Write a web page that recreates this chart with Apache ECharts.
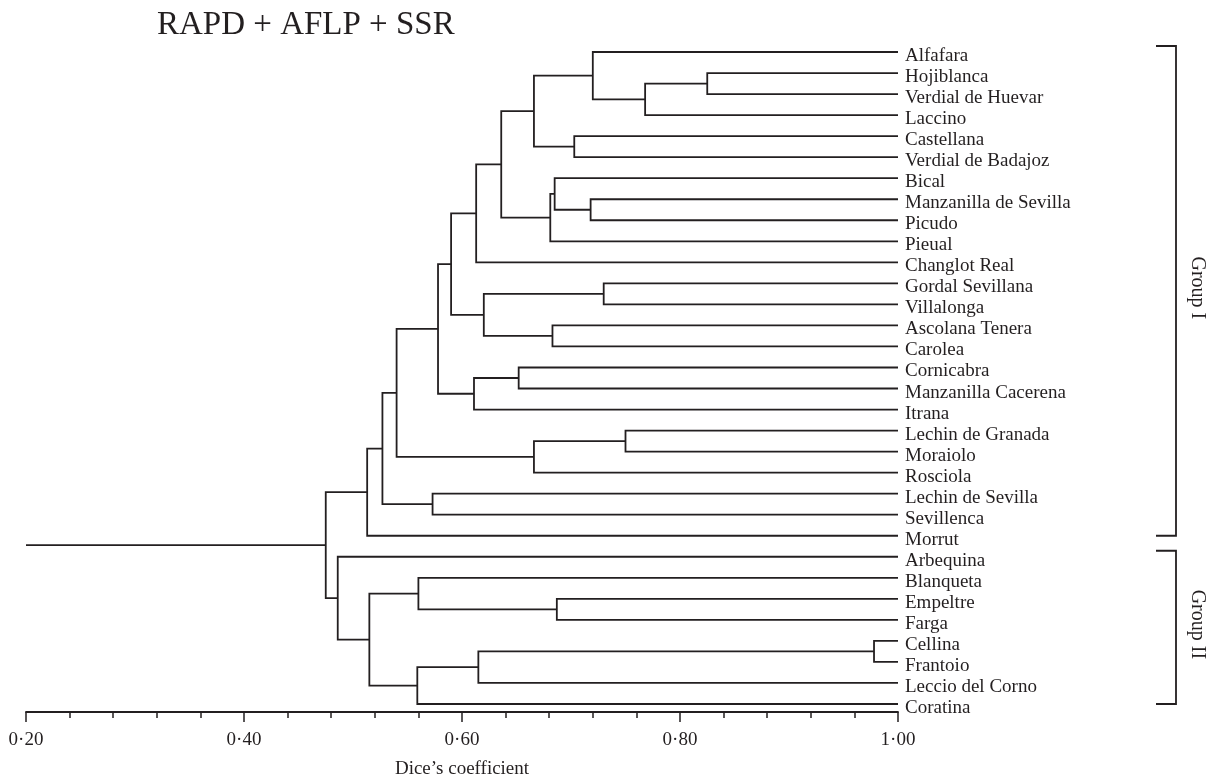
<!DOCTYPE html>
<html>
<head>
<meta charset="utf-8">
<title>RAPD + AFLP + SSR</title>
<script src="https://cdn.jsdelivr.net/npm/echarts@6/dist/echarts.min.js"></script>
<style>
  html, body { margin: 0; padding: 0; background: #fff; }
  #main { width: 1213px; height: 777px; }
</style>
</head>
<body>
<div id="main"></div>
<script>
// leaves, top to bottom
var leaves = ['Alfafara', 'Hojiblanca', 'Verdial de Huevar', 'Laccino', 'Castellana',
  'Verdial de Badajoz', 'Bical', 'Manzanilla de Sevilla', 'Picudo', 'Pieual',
  'Changlot Real', 'Gordal Sevillana', 'Villalonga', 'Ascolana Tenera', 'Carolea',
  'Cornicabra', 'Manzanilla Cacerena', 'Itrana', 'Lechin de Granada', 'Moraiolo',
  'Rosciola', 'Lechin de Sevilla', 'Sevillenca', 'Morrut', 'Arbequina', 'Blanqueta',
  'Empeltre', 'Farga', 'Cellina', 'Frantoio', 'Leccio del Corno', 'Coratina'];

// merges: node id, the two joined clusters, Dice similarity of the join
var mergeIds = ['n1', 'n2', 'n3', 'n4', 'n5', 'n6', 'n7', 'n8', 'n9', 'n10',
  'n11', 'n12', 'n13', 'n14', 'n15', 'n16', 'n17', 'n18', 'n19', 'n20',
  'n21', 'n22', 'n23', 'n24', 'n25', 'n26', 'n27', 'n28', 'n29', 'n30', 'n31'];
var mergeLeft = ['Hojiblanca', 'n1', 'Alfafara', 'Castellana', 'n3',
  'Manzanilla de Sevilla', 'Bical', 'n7', 'n5', 'n9',
  'Gordal Sevillana', 'Ascolana Tenera', 'n11', 'n10', 'Cornicabra',
  'n15', 'n14', 'Lechin de Granada', 'n18', 'n17',
  'Lechin de Sevilla', 'n20', 'n22', 'Empeltre', 'Blanqueta',
  'Cellina', 'n26', 'n27', 'n25', 'Arbequina', 'n23'];
var mergeRight = ['Verdial de Huevar', 'Laccino', 'n2', 'Verdial de Badajoz', 'n4',
  'Picudo', 'n6', 'Pieual', 'n8', 'Changlot Real',
  'Villalonga', 'Carolea', 'n12', 'n13', 'Manzanilla Cacerena',
  'Itrana', 'n16', 'Moraiolo', 'Rosciola', 'n19',
  'Sevillenca', 'n21', 'Morrut', 'Farga', 'n24',
  'Frantoio', 'Leccio del Corno', 'Coratina', 'n28', 'n29', 'n30'];
var mergeSim = [0.825, 0.768, 0.720, 0.703, 0.666, 0.718, 0.685, 0.681, 0.636, 0.613,
  0.730, 0.683, 0.620, 0.590, 0.652, 0.611, 0.578, 0.750, 0.666, 0.540,
  0.573, 0.527, 0.513, 0.687, 0.560, 0.978, 0.615, 0.559, 0.515, 0.486, 0.475];

var axisMin = 0.20, axisMax = 1.00;
var tickValues = [0.20, 0.40, 0.60, 0.80, 1.00];

var groupNames = ['Group I', 'Group II'];
var groupFirst = ['Alfafara', 'Arbequina'];
var groupLast = ['Morrut', 'Coratina'];

// layout: leaf sits at its row and at similarity 1, a node halfway between its children
var pos = {};
leaves.forEach(function (name, i) { pos[name] = { x: axisMax, y: i }; });
var treeData = [];
mergeIds.forEach(function (id, i) {
  var a = pos[mergeLeft[i]], b = pos[mergeRight[i]];
  pos[id] = { x: mergeSim[i], y: (a.y + b.y) / 2 };
  treeData.push([a.x, a.y, mergeSim[i], b.y, b.x]);
});
var root = pos[mergeIds[mergeIds.length - 1]];
treeData.push([axisMin, root.y, root.x, root.y, root.x]);

var groupData = groupNames.map(function (g, i) {
  return [axisMax, leaves.indexOf(groupFirst[i]), leaves.indexOf(groupLast[i])];
});

var ink = '#231f20';
var serif = '"Liberation Serif", "Times New Roman", serif';

var option = {
  animation: false,
  backgroundColor: '#fff',
  title: {
    text: 'RAPD + AFLP + SSR',
    left: 152,
    top: 4,
    textStyle: { fontFamily: serif, fontSize: 33, fontWeight: 'normal', color: ink }
  },
  grid: { left: 26, right: 315, top: 52, height: 652, outerBoundsMode: 'none', containLabel: false },
  xAxis: {
    type: 'value', min: axisMin, max: axisMax, interval: 0.2, position: 'bottom', offset: 8,
    axisLine: { onZero: false, lineStyle: { color: ink, width: 1.8 } },
    axisTick: { length: 10, lineStyle: { color: ink, width: 1.5 } },
    minorTick: { show: true, splitNumber: 5, length: 6, lineStyle: { color: ink, width: 1.5 } },
    axisLabel: {
      margin: 19, fontFamily: serif, fontSize: 19, color: ink,
      formatter: function (v) {
        var hit = tickValues.filter(function (t) { return Math.abs(t - v) < 1e-6; });
        return hit.length ? hit[0].toFixed(2).replace('.', '\u00b7') : '';
      }
    },
    splitLine: { show: false },
    minorSplitLine: { show: false },
    name: 'Dice\u2019s coefficient', nameLocation: 'middle', nameGap: 48,
    nameTextStyle: { fontFamily: serif, fontSize: 19, color: ink }
  },
  yAxis: [
    {
      type: 'category', data: leaves, inverse: true, boundaryGap: false, position: 'right',
      axisLine: { show: false }, axisTick: { show: false }, splitLine: { show: false },
      axisLabel: {
        interval: 0, margin: 7, verticalAlign: 'top', lineHeight: 8,
        fontFamily: serif, fontSize: 19, color: ink
      }
    },
    { type: 'value', min: 0, max: leaves.length - 1, inverse: true, show: false }
  ],
  series: [
    {
      type: 'custom',
      xAxisIndex: 0,
      yAxisIndex: 1,
      encode: { x: [0, 2, 4], y: [1, 3] },
      data: treeData,
      renderItem: function (params, api) {
        var p1 = api.coord([api.value(0), api.value(1)]);
        var p2 = api.coord([api.value(2), api.value(1)]);
        var p3 = api.coord([api.value(2), api.value(3)]);
        var p4 = api.coord([api.value(4), api.value(3)]);
        return {
          type: 'polyline',
          shape: { points: [p1, p2, p3, p4] },
          style: { fill: null, stroke: ink, lineWidth: 1.8 }
        };
      }
    },
    {
      // group brackets on the right
      type: 'custom',
      xAxisIndex: 0,
      yAxisIndex: 1,
      encode: { x: 0, y: [1, 2] },
      data: groupData,
      renderItem: function (params, api) {
        var xr = api.coord([api.value(0), 0])[0];
        var yTop = api.coord([api.value(0), api.value(1)])[1] - 6;
        var yBot = api.coord([api.value(0), api.value(2)])[1];
        var x0 = xr + 258, x1 = xr + 278;
        return {
          type: 'group',
          children: [
            {
              type: 'polyline',
              shape: { points: [[x0, yTop], [x1, yTop], [x1, yBot], [x0, yBot]] },
              style: { fill: null, stroke: ink, lineWidth: 1.8 }
            },
            {
              type: 'text',
              x: xr + 299,
              y: (yTop + yBot) / 2 - 3,
              rotation: -Math.PI / 2,
              style: {
                text: groupNames[params.dataIndex],
                fill: ink, fontFamily: serif, fontSize: 20,
                align: 'center', verticalAlign: 'middle'
              }
            }
          ]
        };
      }
    }
  ]
};

var chart = echarts.init(document.getElementById('main'));
chart.setOption(option);
</script>
</body>
</html>
